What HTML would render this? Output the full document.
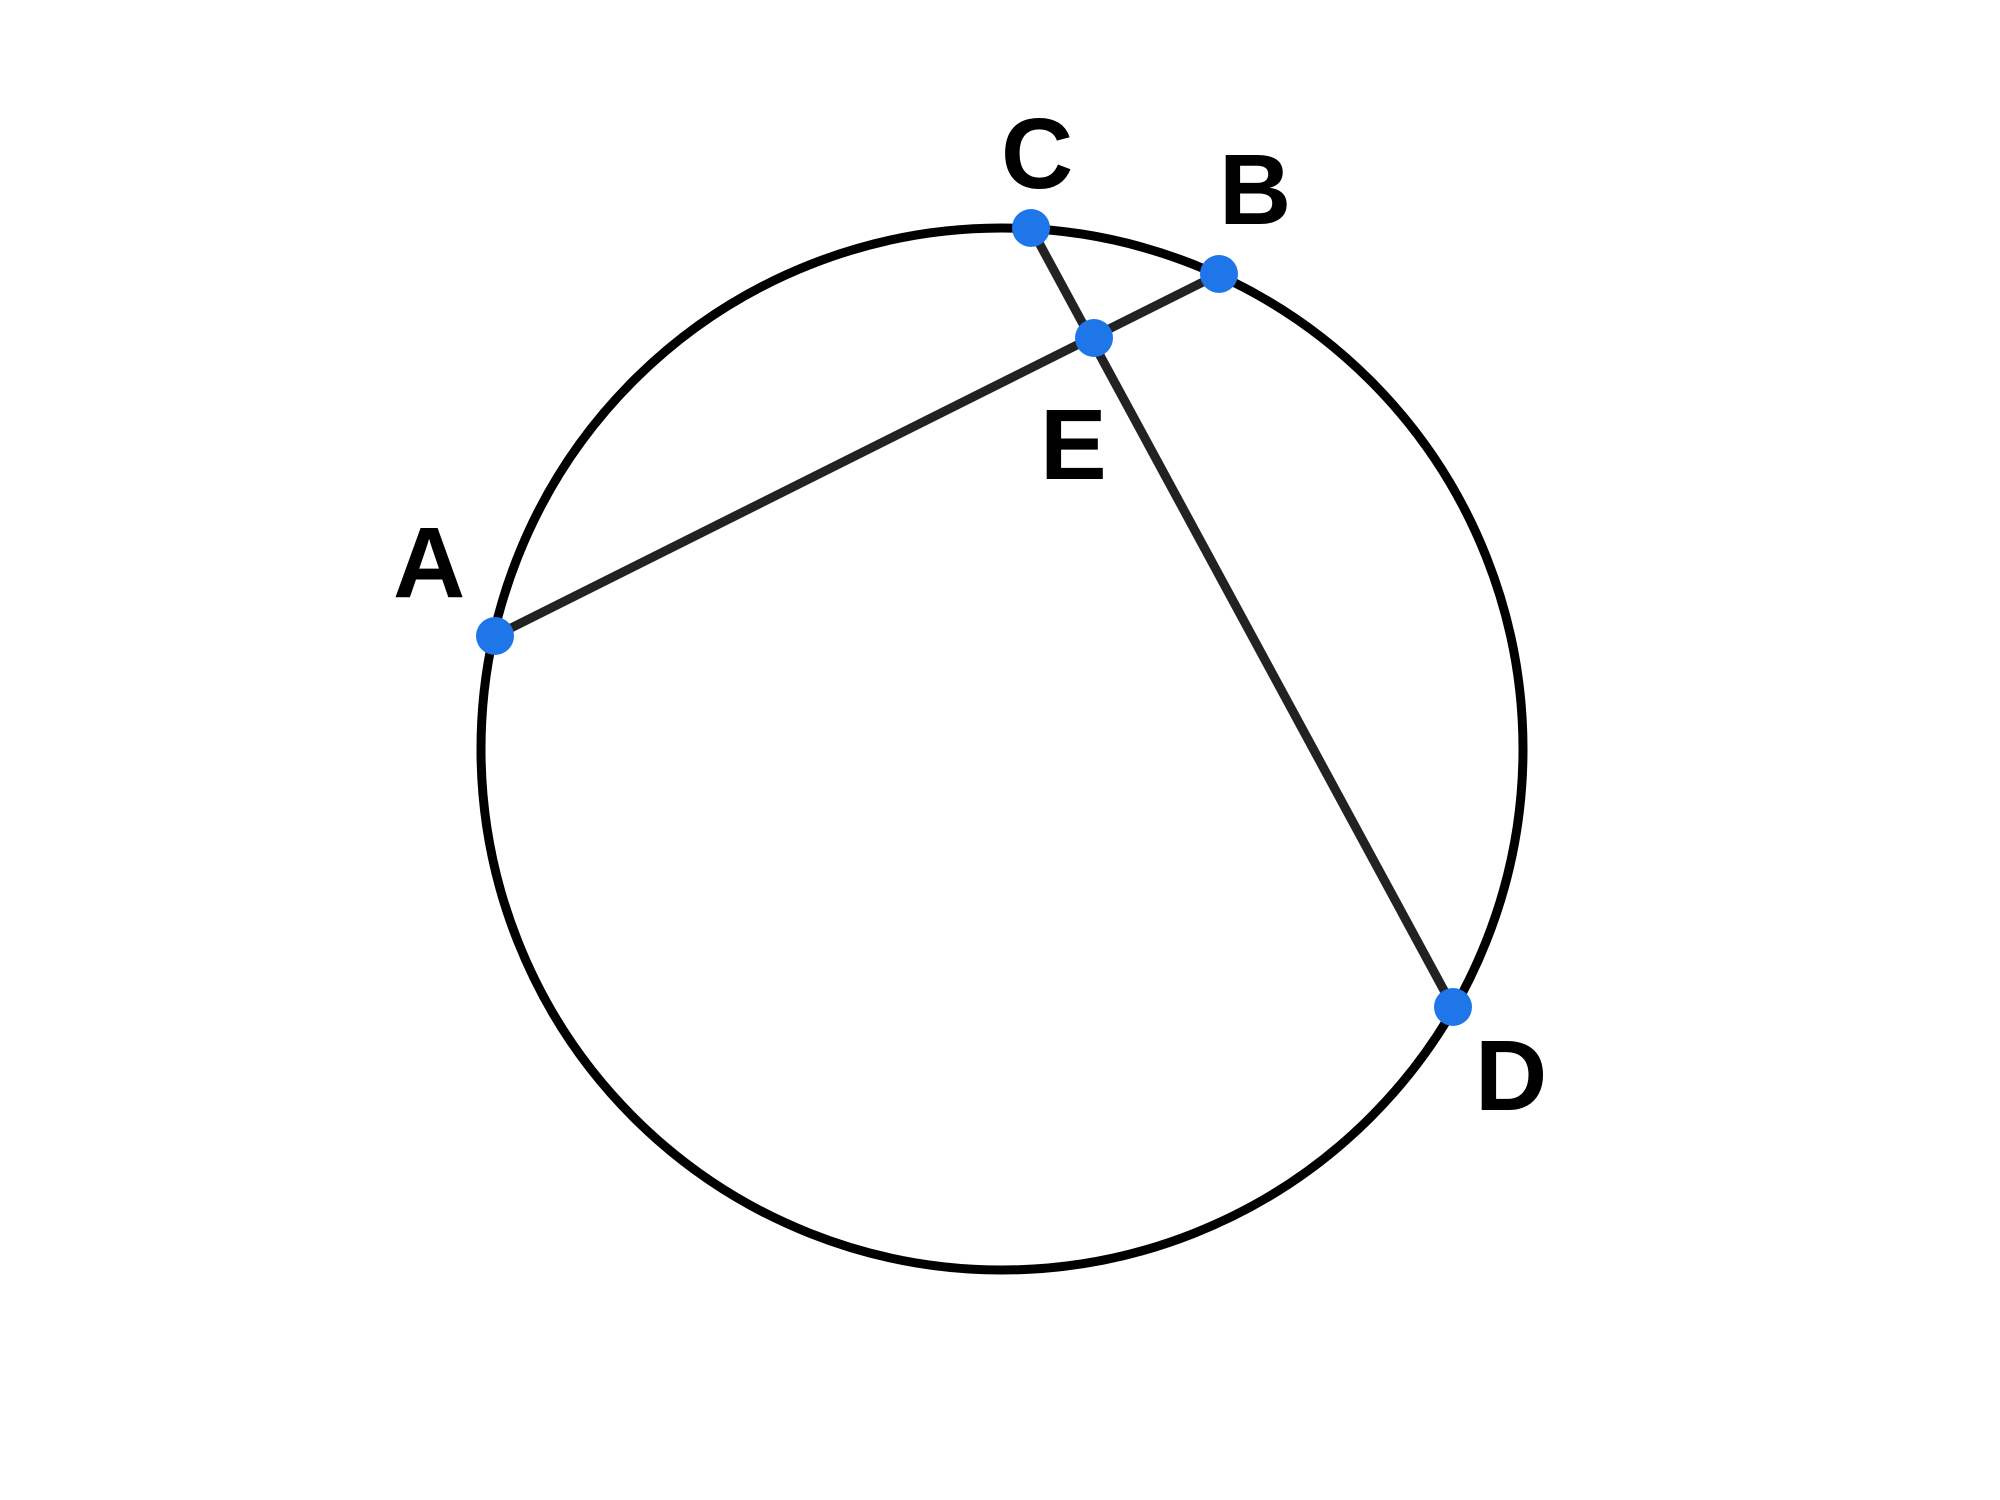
<!DOCTYPE html>
<html><head><style>html,body{margin:0;padding:0;background:#fff;}svg{display:block}</style></head>
<body>
<svg width="2000" height="1500" viewBox="0 0 2000 1500" xmlns="http://www.w3.org/2000/svg">
<rect width="2000" height="1500" fill="#fff"/>
<circle cx="1002" cy="749" r="521" fill="none" stroke="#000" stroke-width="9"/>
<line x1="495" y1="636" x2="1219" y2="274" stroke="#222" stroke-width="9"/>
<line x1="1031" y1="228" x2="1453" y2="1007" stroke="#222" stroke-width="9"/>
<g fill="#1e76e8">
<circle cx="495" cy="636" r="19"/>
<circle cx="1219" cy="274" r="19"/>
<circle cx="1031" cy="228" r="19"/>
<circle cx="1453" cy="1007" r="19"/>
<circle cx="1094" cy="338" r="19"/>
</g>
<g font-family="'Liberation Sans', sans-serif" font-weight="bold" font-size="100" fill="#000">
<text x="393" y="597">A</text>
<text x="1001" y="188">C</text>
<text x="1219" y="224">B</text>
<text x="1040" y="479">E</text>
<text x="1475" y="1110">D</text>
</g>
</svg>
</body></html>
